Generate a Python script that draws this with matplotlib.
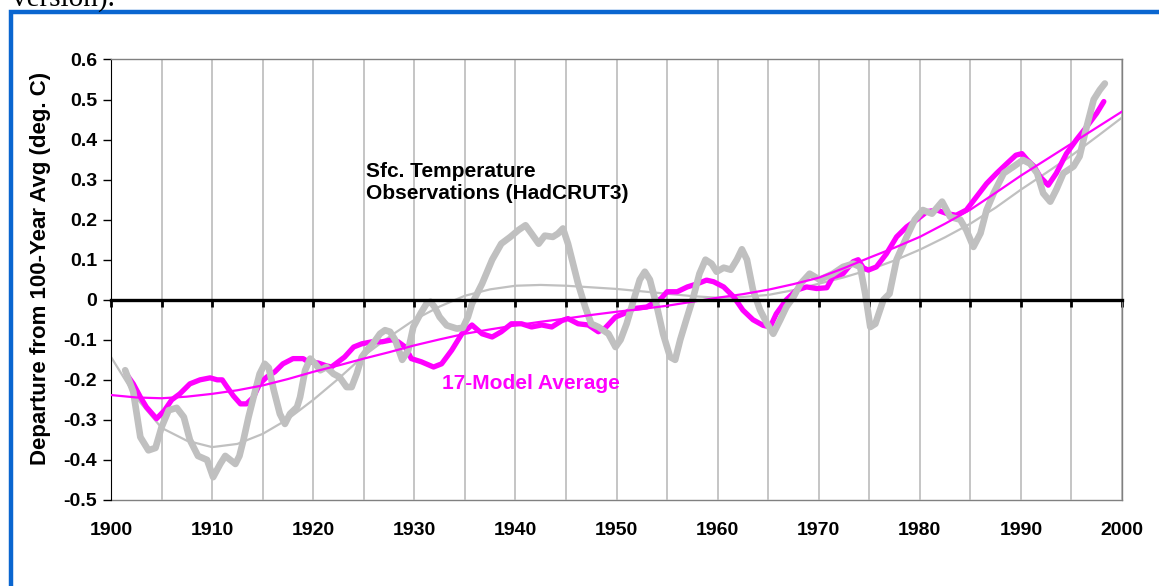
import matplotlib
matplotlib.use('Agg')
import matplotlib.pyplot as plt
from matplotlib.patches import Rectangle
import numpy as np

plt.rcParams['font.family'] = ['Liberation Sans', 'DejaVu Sans']
plt.rcParams['axes.unicode_minus'] = False

# HadCRUT3 observations (smoothed)
obs_years = [1901.4, 1902.2, 1902.9, 1903.7, 1904.4, 1905.0, 1905.7, 1906.5, 1907.2, 1907.8,
             1908.6, 1909.5, 1910.1, 1910.8, 1911.3, 1911.8, 1912.3, 1912.7, 1913.1, 1913.6,
             1914.1, 1914.7, 1915.2, 1915.6, 1916.1, 1916.7, 1917.2, 1917.7, 1918.4, 1918.7,
             1919.2, 1919.7, 1920.2, 1920.7, 1921.3, 1922.0, 1922.6, 1923.3, 1923.8, 1924.3,
             1924.8, 1925.3, 1925.9, 1926.6, 1927.1, 1927.6, 1928.1, 1928.8, 1929.4, 1929.9,
             1930.6, 1931.2, 1931.6, 1932.0, 1932.5, 1933.2, 1934.2, 1934.8, 1935.3, 1935.7,
             1936.7, 1937.7, 1938.6, 1939.5, 1940.3, 1941.0, 1941.6, 1942.3, 1942.9, 1943.7,
             1944.2, 1944.7, 1945.2, 1945.6, 1946.2, 1946.9, 1947.5, 1948.2, 1949.2, 1949.9,
             1950.4, 1951.0, 1951.7, 1952.3, 1952.8, 1953.3, 1954.0, 1954.6, 1955.3, 1955.8,
             1956.3, 1956.9, 1957.6, 1958.2, 1958.8, 1959.4, 1959.9, 1960.6, 1961.3, 1961.9,
             1962.4, 1962.9, 1963.5, 1964.2, 1964.9, 1965.5, 1966.2, 1966.8, 1967.5, 1968.2,
             1969.1, 1970.1, 1971.4, 1972.4, 1973.4, 1974.1, 1974.6, 1975.1, 1975.6, 1976.4,
             1977.0, 1977.7, 1978.7, 1979.5, 1980.3, 1981.2, 1982.2, 1983.0, 1984.0, 1984.6,
             1985.3, 1986.0, 1986.6, 1987.3, 1988.3, 1989.3, 1990.2, 1990.9, 1991.6, 1992.2,
             1992.9, 1993.5, 1994.2, 1995.2, 1995.8, 1996.5, 1997.2, 1997.8, 1998.3]
obs_vals = [-0.176, -0.23, -0.343, -0.376, -0.37, -0.318, -0.276, -0.27, -0.293, -0.35,
            -0.39, -0.40, -0.443, -0.41, -0.39, -0.40, -0.41, -0.39, -0.35, -0.293,
            -0.243, -0.185, -0.16, -0.17, -0.226, -0.285, -0.31, -0.285, -0.268, -0.243,
            -0.176, -0.147, -0.16, -0.176, -0.168, -0.185, -0.193, -0.218, -0.218, -0.185,
            -0.143, -0.126, -0.11, -0.085, -0.076, -0.08, -0.10, -0.15, -0.126, -0.068,
            -0.035, -0.01, -0.005, -0.018, -0.043, -0.064, -0.072, -0.07, -0.043, -0.01,
            0.04, 0.10, 0.14, 0.157, 0.174, 0.186, 0.165, 0.14, 0.16, 0.157,
            0.165, 0.178, 0.14, 0.10, 0.04, -0.018, -0.06, -0.068, -0.085, -0.118,
            -0.10, -0.06, 0.0, 0.05, 0.07, 0.05, -0.018, -0.085, -0.143, -0.15,
            -0.10, -0.05, 0.007, 0.065, 0.10, 0.09, 0.07, 0.08, 0.075, 0.10,
            0.126, 0.10, 0.024, -0.026, -0.06, -0.085, -0.05, -0.018, 0.007, 0.04,
            0.065, 0.05, 0.065, 0.082, 0.09, 0.082, 0.015, -0.068, -0.06, 0.0,
            0.015, 0.10, 0.157, 0.20, 0.224, 0.215, 0.245, 0.207, 0.20, 0.174,
            0.132, 0.166, 0.224, 0.266, 0.316, 0.333, 0.349, 0.34, 0.316, 0.266,
            0.245, 0.275, 0.316, 0.333, 0.358, 0.432, 0.50, 0.524, 0.54]

# 17-model average
model_years = [1901.5, 1902.2, 1902.9, 1903.5, 1904.5, 1905.3, 1906.0, 1906.8, 1907.8, 1908.8,
               1909.8, 1910.5, 1911.0, 1911.4, 1912.1, 1912.8, 1913.4, 1914.1, 1914.7, 1915.4,
               1916.2, 1917.0, 1918.0, 1919.0, 1919.5, 1920.5, 1921.3, 1921.8, 1923.1, 1924.0,
               1924.8, 1925.8, 1926.8, 1927.8, 1928.4, 1929.1, 1929.7, 1930.7, 1931.9, 1932.7,
               1933.7, 1934.7, 1935.7, 1936.7, 1937.7, 1938.6, 1939.6, 1940.6, 1941.6, 1942.6,
               1943.6, 1944.6, 1945.2, 1946.2, 1947.2, 1948.2, 1948.9, 1949.9, 1950.7, 1951.7,
               1953.0, 1954.4, 1955.0, 1956.0, 1957.0, 1958.0, 1958.9, 1959.6, 1960.6, 1961.6,
               1962.5, 1963.5, 1964.5, 1965.2, 1965.8, 1966.8, 1967.8, 1968.8, 1969.8, 1970.8,
               1971.4, 1972.4, 1973.4, 1973.9, 1974.4, 1974.9, 1975.7, 1976.7, 1977.7, 1978.7,
               1979.7, 1980.7, 1981.7, 1982.7, 1983.6, 1984.6, 1985.6, 1986.6, 1987.6, 1988.6,
               1989.5, 1990.1, 1990.6, 1991.3, 1991.9, 1992.7, 1993.5, 1994.5, 1995.5, 1996.5,
               1997.5, 1998.2]
model_vals = [-0.185, -0.21, -0.243, -0.268, -0.297, -0.276, -0.25, -0.235, -0.21, -0.20,
              -0.195, -0.20, -0.20, -0.215, -0.24, -0.26, -0.26, -0.243, -0.21, -0.193,
              -0.18, -0.16, -0.147, -0.147, -0.155, -0.158, -0.165, -0.168, -0.143, -0.118,
              -0.11, -0.105, -0.105, -0.10, -0.105, -0.118, -0.147, -0.155, -0.168, -0.16,
              -0.126, -0.085, -0.063, -0.085, -0.093, -0.08, -0.06, -0.06, -0.068, -0.063,
              -0.068, -0.052, -0.047, -0.06, -0.063, -0.08, -0.07, -0.043, -0.035, -0.022,
              -0.018, 0.003, 0.02, 0.02, 0.032, 0.04, 0.049, 0.045, 0.032, 0.007,
              -0.026, -0.05, -0.064, -0.068, -0.035, 0.0, 0.024, 0.032, 0.028, 0.03,
              0.057, 0.065, 0.095, 0.10, 0.08, 0.074, 0.082, 0.115, 0.157, 0.182,
              0.20, 0.22, 0.224, 0.215, 0.211, 0.224, 0.257, 0.29, 0.316, 0.34,
              0.361, 0.365, 0.35, 0.333, 0.307, 0.286, 0.316, 0.365, 0.40, 0.432,
              0.466, 0.495]

# fitted trend curves, read every 2.5 years
trend_years = [1900, 1902.5, 1905, 1907.5, 1910, 1912.5, 1915, 1917.5, 1920, 1922.5, 1925,
               1927.5, 1930, 1932.5, 1935, 1937.5, 1940, 1942.5, 1945, 1947.5, 1950,
               1952.5, 1955, 1957.5, 1960, 1962.5, 1965, 1967.5, 1970, 1972.5, 1975,
               1977.5, 1980, 1982.5, 1985, 1987.5, 1990, 1992.5, 1995, 1997.5, 2000]
obs_trend = [-0.143, -0.245, -0.32, -0.352, -0.368, -0.36, -0.335, -0.298, -0.25, -0.197, -0.14,
             -0.093, -0.05, -0.017, 0.01, 0.026, 0.035, 0.037, 0.035, 0.031, 0.027,
             0.021, 0.015, 0.009, 0.005, 0.007, 0.012, 0.024, 0.04, 0.056, 0.075,
             0.098, 0.125, 0.156, 0.19, 0.23, 0.275, 0.317, 0.36, 0.407, 0.455]
model_trend = [-0.238, -0.244, -0.246, -0.242, -0.235, -0.226, -0.214, -0.198, -0.18, -0.164, -0.147,
               -0.131, -0.114, -0.099, -0.085, -0.074, -0.064, -0.055, -0.047, -0.038, -0.03,
               -0.023, -0.015, -0.005, 0.005, 0.014, 0.025, 0.039, 0.055, 0.079, 0.105,
               0.13, 0.157, 0.19, 0.225, 0.267, 0.31, 0.35, 0.39, 0.43, 0.47]

x_ticks = list(range(1900, 2001, 5))
x_labels = list(range(1900, 2001, 10))
y_ticks = [-0.5, -0.4, -0.3, -0.2, -0.1, 0, 0.1, 0.2, 0.3, 0.4, 0.5, 0.6]

gray = '#c0c0c0'
magenta = '#ff00ff'

fig = plt.figure(figsize=(11.59, 5.86), dpi=100)
ax = fig.add_axes([0.0958, 0.1468, 0.8723, 0.7517])

ax.plot(trend_years, obs_trend, color=gray, lw=1.6, zorder=2)
ax.plot(model_years, model_vals, color=magenta, lw=3.8, solid_capstyle='round', zorder=3)
ax.plot(obs_years, obs_vals, color=gray, lw=4.8, solid_capstyle='round', zorder=4)
ax.plot(trend_years, model_trend, color=magenta, lw=1.6, zorder=5)

ax.set_xlim(1900, 2000)
ax.set_ylim(-0.5, 0.6)

# x axis runs along zero, labels sit on the bottom border
ax.spines['bottom'].set_position(('data', 0))
ax.spines['bottom'].set_linewidth(2.4)
ax.spines['bottom'].set_zorder(6)
ax.set_xticks(x_ticks)
ax.tick_params(axis='x', direction='out', length=5, width=2, color='black', labelbottom=False)
ax.grid(axis='x', color=gray, lw=1.3)
ax.set_axisbelow(True)

for s in ['top', 'right']:
	ax.spines[s].set_color('#808080')
	ax.spines[s].set_linewidth(1.0)

sec = ax.secondary_xaxis('bottom')
sec.set_xticks(x_labels, labels=[str(v) for v in x_labels])
sec.tick_params(length=0, pad=16, labelsize=14)
sec.spines['bottom'].set_color('#808080')
sec.spines['bottom'].set_linewidth(1.0)
for lab in sec.get_xticklabels():
	lab.set_fontweight('bold')

ax.set_yticks(y_ticks, labels=['%g' % v for v in y_ticks])
ax.tick_params(axis='y', direction='out', length=6, width=1, pad=4, labelsize=14)
for lab in ax.get_yticklabels():
	lab.set_fontweight('bold')

fig.text(41 / 1159, 1 - 268 / 586, 'Departure from 100-Year Avg (deg. C)', rotation=90,
		 ha='center', va='center', fontsize=16, fontweight='bold')

ax.text(1925.2, 0.32, 'Sfc. Temperature', fontsize=15, fontweight='bold', va='center', ha='left')
ax.text(1925.2, 0.265, 'Observations (HadCRUT3)', fontsize=15, fontweight='bold', va='center', ha='left')
ax.text(1932.7, -0.209, '17-Model Average', fontsize=15, fontweight='bold', color=magenta,
		va='center', ha='left')

# page remnants: caption text above and the blue frame
fig.text(12 / 1159, 1 - 6 / 586, 'version).', family='Liberation Serif', fontsize=21, va='baseline')
frame = Rectangle((11 / 1159, -0.5), 2.0, 1 - 11.5 / 586 + 0.5, transform=fig.transFigure,
				  fill=False, edgecolor='#0a66d0', lw=3.2)
fig.add_artist(frame)

fig.savefig('out.png', dpi=100)
